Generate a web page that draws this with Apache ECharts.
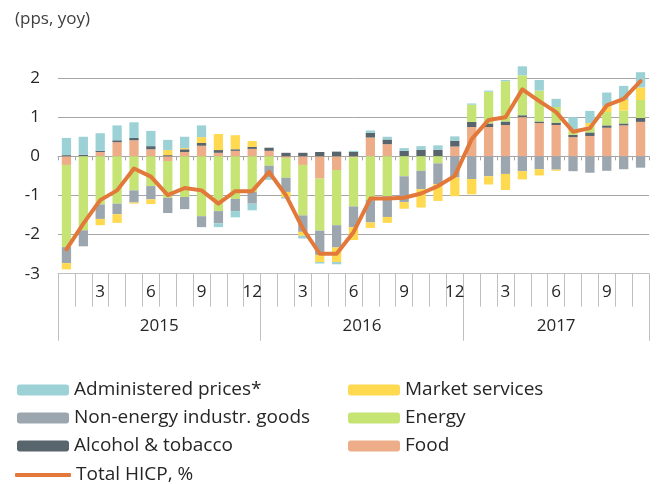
<!DOCTYPE html>
<html>
<head>
<meta charset="utf-8">
<script src="https://cdn.jsdelivr.net/npm/echarts@6/dist/echarts.min.js"></script>
<style>
  html, body { margin: 0; padding: 0; background: #fff; }
  #main { width: 664px; height: 484px; }
</style>
</head>
<body>
<div id="main"></div>
<script>
// months: Jan 2015 - Nov 2017
var years = ["2015", "2016", "2017"];
var monthsPerYear = [12, 12, 11];
var months = [];
for (var y = 0; y < years.length; y++) {
    for (var m = 1; m <= monthsPerYear[y]; m++) months.push(String(m));
}

// contributions, pps
var food = [-0.22, 0, 0.11, 0.36, 0.41, 0.18, -0.12, 0.11, 0.27, 0.09, 0.14, 0.19,
    0.14, -0.04, -0.22, -0.57, -0.35, -0.02, 0.48, 0.31, 0, 0, 0, 0.25,
    0.75, 0.75, 0.80, 1.00, 0.85, 0.80, 0.49, 0.52, 0.73, 0.79, 0.88];
var alcohol = [0.03, 0.04, 0.03, 0.05, 0.06, 0.08, 0.03, 0.07, 0.07, 0.07, 0.04, 0.05,
    0.08, 0.09, 0.09, 0.11, 0.12, 0.11, 0.12, 0.12, 0.14, 0.17, 0.17, 0.15,
    0.13, 0.09, 0.09, 0.05, 0.04, 0.06, 0.06, 0.09, 0.06, 0.05, 0.10];
var energy = [-2.10, -1.89, -1.23, -1.21, -0.87, -0.76, -0.94, -1.04, -1.53, -1.40, -1.09, -0.91,
    -0.24, -0.51, -1.29, -1.33, -1.41, -1.26, -1.12, -1.02, -0.51, -0.37, -0.18, 0,
    0.44, 0.81, 1.03, 1.02, 0.79, 0.40, 0.10, 0.15, 0.34, 0.33, 0.46];
var neig = [-0.41, -0.41, -0.37, -0.27, -0.31, -0.34, -0.39, -0.31, -0.28, -0.31, -0.31, -0.30,
    -0.29, -0.36, -0.42, -0.62, -0.57, -0.53, -0.57, -0.53, -0.66, -0.47, -0.53, -0.54,
    -0.58, -0.51, -0.45, -0.38, -0.33, -0.34, -0.38, -0.42, -0.37, -0.33, -0.29];
var market = [-0.16, 0, -0.16, -0.22, -0.03, -0.12, 0.13, 0.03, 0.15, 0.41, 0.36, 0.15,
    0, -0.13, -0.10, -0.18, -0.37, -0.33, -0.14, -0.15, -0.17, -0.47, -0.43, -0.48,
    -0.39, -0.21, -0.41, -0.21, -0.16, -0.03, 0.03, 0.09, 0.15, 0.27, 0.32];
var admin = [0.44, 0.46, 0.45, 0.38, 0.40, 0.39, 0.26, 0.29, 0.30, -0.10, -0.16, -0.17,
    -0.07, -0.04, -0.07, -0.04, -0.06, 0.03, 0.06, 0.07, 0.07, 0.09, 0.11, 0.11,
    0.03, 0.03, 0.03, 0.23, 0.27, 0.21, 0.32, 0.31, 0.35, 0.36, 0.39];
// total HICP, %
var hicp = [-2.38, -1.72, -1.12, -0.87, -0.31, -0.52, -0.99, -0.81, -0.87, -1.21, -0.89, -0.89,
    -0.40, -1.00, -1.85, -2.49, -2.49, -1.94, -1.08, -1.08, -1.06, -0.95, -0.76, -0.50,
    0.44, 0.93, 1.00, 1.71, 1.41, 1.13, 0.63, 0.72, 1.30, 1.47, 1.92];

// year boundaries and centres on a 0..n month scale
var yearEdges = [0], yearMids = [];
for (var i = 0; i < monthsPerYear.length; i++) {
    yearMids.push(yearEdges[i] + monthsPerYear[i] / 2);
    yearEdges.push(yearEdges[i] + monthsPerYear[i]);
}

var FONT = "Open Sans";
var txt = "#262626";
var orange = "#E2783A";
var gridPos = { left: 58, right: 15, top: 58.5, bottom: 210.3 };

function bar(name, data, color) {
    return {
        name: name, type: "bar", stack: "c", data: data,
        barCategoryGap: "45%",
        itemStyle: { color: color },
        emphasis: { disabled: true }
    };
}

// one legend box per entry, so the two columns line up like the original
function legendItem(name, left, cy, isLine) {
    var lg = {
        left: left - 5, top: cy - 15,
        itemWidth: 52, itemHeight: 11, itemGap: 0,
        selectedMode: false,
        textStyle: { fontFamily: FONT, fontSize: 19, color: txt, lineHeight: 20 },
        data: [name]
    };
    if (isLine) {
        lg.icon = "roundRect";
        lg.itemWidth = 56;
        lg.itemHeight = 4;
        lg.itemStyle = { color: orange };
    }
    return lg;
}

var chart = echarts.init(document.getElementById("main"), null, { renderer: "canvas" });

var option = {
    animation: false,
    backgroundColor: "#fff",
    textStyle: { fontFamily: FONT },
    title: {
        text: "(pps, yoy)", left: 10, top: 6,
        textStyle: { fontFamily: FONT, fontSize: 17, fontWeight: "normal", color: "#404040" }
    },
    grid: [
        Object.assign({}, gridPos),
        Object.assign({}, gridPos)
    ],
    legend: [
        legendItem("Administered prices*", 17, 390),
        legendItem("Non-energy industr. goods", 17, 418),
        legendItem("Alcohol & tobacco", 17, 446),
        legendItem("Total HICP, %", 15, 475, true),
        legendItem("Market services", 348, 390),
        legendItem("Energy", 348, 418),
        legendItem("Food", 348, 446)
    ],
    xAxis: [
        {
            type: "category", gridIndex: 0, data: months, position: "bottom",
            axisLine: { onZero: false, lineStyle: { color: "#BFBFBF", width: 1 } },
            axisTick: { show: true, interval: 0, length: 33, lineStyle: { color: "#BFBFBF" } },
            axisLabel: {
                interval: 0, margin: 10, fontSize: 17, color: txt,
                formatter: function (v) { return (+v) % 3 === 0 ? v : ""; }
            },
            splitLine: { show: false }
        },
        {
            type: "category", gridIndex: 0, data: months, position: "top",
            axisLine: { onZero: true, lineStyle: { color: "#A6A6A6", width: 1 } },
            axisTick: { show: true, inside: true, interval: 0, length: 4, lineStyle: { color: "#A6A6A6" } },
            axisLabel: { show: false },
            splitLine: { show: false }
        },
        {
            type: "value", gridIndex: 1, min: 0, max: months.length, position: "bottom",
            axisLine: { show: false },
            axisTick: { show: true, length: 67, customValues: yearEdges, lineStyle: { color: "#BFBFBF" } },
            axisLabel: {
                margin: 44, fontSize: 17, color: txt, customValues: yearMids,
                formatter: function (v) {
                    var k = yearMids.indexOf(v);
                    return k >= 0 ? years[k] : "";
                }
            },
            splitLine: { show: false }
        }
    ],
    yAxis: [
        {
            type: "value", gridIndex: 0, min: -3, max: 2.5, interval: 1,
            axisLine: { show: false },
            axisTick: { show: false },
            axisLabel: { margin: 18, fontSize: 17, color: txt, showMaxLabel: false },
            splitLine: { show: true, showMinLine: false, showMaxLine: false, lineStyle: { color: "#A6A6A6", width: 1 } }
        },
        { type: "value", gridIndex: 1, show: false, min: 0, max: 1 }
    ],
    series: [
        bar("Food", food, "#EEAD89"),
        bar("Alcohol & tobacco", alcohol, "#59656C"),
        bar("Energy", energy, "#C6E474"),
        bar("Non-energy industr. goods", neig, "#9CA6AE"),
        bar("Market services", market, "#FFD94F"),
        bar("Administered prices*", admin, "#9CD2D6"),
        {
            name: "Total HICP, %", type: "line", data: hicp,
            xAxisIndex: 0, yAxisIndex: 0,
            symbol: "none", smooth: false,
            lineStyle: { color: orange, width: 4, cap: "round", join: "round" },
            itemStyle: { color: orange },
            emphasis: { disabled: true },
            z: 5
        }
    ]
};
chart.setOption(option);
</script>
</body>
</html>
